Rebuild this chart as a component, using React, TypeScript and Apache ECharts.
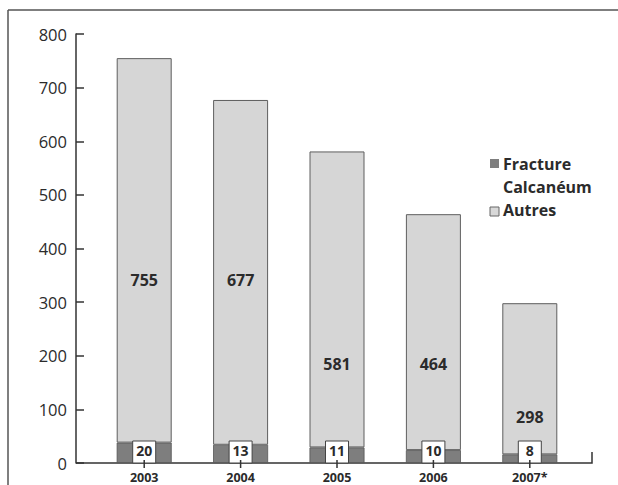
import React, { useEffect, useRef } from "react";
import * as echarts from "echarts";

const years = ["2003", "2004", "2005", "2006", "2007*"];
const fractureLabels = [20, 13, 11, 10, 8];
const fractureHeights = [38, 34, 29, 24, 16];
const autres = [717, 643, 552, 440, 282];
const totals = [755, 677, 581, 464, 298];
const totalLabelLevels = [342, 342, 185, 185, 86];
const yTicks = [0, 100, 200, 300, 400, 500, 600, 700, 800];

const FONT = "'Open Sans', 'Noto Sans', sans-serif";
const DARK = "#2b2b2b";

export default function App() {
  const ref = useRef<HTMLDivElement>(null);
  useEffect(() => {
    if (!ref.current) return;
    const chart = echarts.init(ref.current, null, { renderer: "svg" });
    chart.setOption({
      animation: false,
      backgroundColor: "#ffffff",
      grid: { left: 96, right: 40, top: 34, bottom: 22, containLabel: false },
      xAxis: {
        type: "category",
        data: years,
        axisLine: { show: false },
        axisTick: { show: false },
        axisLabel: {
          margin: 8,
          fontFamily: FONT,
          fontWeight: "bold",
          fontSize: 12.5,
          color: DARK,
        },
      },
      yAxis: {
        type: "value",
        min: yTicks[0],
        max: yTicks[yTicks.length - 1],
        interval: 100,
        offset: 20,
        splitLine: { show: false },
        axisLine: { show: true, lineStyle: { color: "#333", width: 1.5 } },
        axisTick: { show: true, inside: true, length: 8, lineStyle: { color: "#333", width: 1.5 } },
        axisLabel: { margin: 9, fontFamily: FONT, fontSize: 16.5, color: DARK },
      },
      series: [
        {
          name: "Fracture Calcanéum",
          type: "bar",
          stack: "a",
          barWidth: 55,
          data: fractureHeights,
          itemStyle: { color: "#7e7e7e", borderColor: "#555", borderWidth: 0.8 },
        },
        {
          name: "Autres",
          type: "bar",
          stack: "a",
          barWidth: 55,
          data: autres,
          itemStyle: { color: "#d6d6d6", borderColor: "#5e5e5e", borderWidth: 1 },
        },
        {
          type: "custom",
          z: 5,
          data: totals.map((t, i) => [i, totalLabelLevels[i], t]),
          renderItem: (params: any, api: any) => {
            const p = api.coord([api.value(0), api.value(1)]);
            return {
              type: "text",
              x: p[0],
              y: p[1],
              style: {
                text: String(api.value(2)),
                align: "center",
                verticalAlign: "middle",
                fontFamily: FONT,
                fontWeight: "bold",
                fontSize: 16,
                fill: DARK,
              },
            };
          },
        },
        {
          type: "custom",
          z: 6,
          data: fractureLabels.map((v, i) => [i, 0, v]),
          renderItem: (params: any, api: any) => {
            const p = api.coord([api.value(0), 0]);
            return {
              type: "group",
              children: [
                {
                  type: "rect",
                  shape: { x: p[0] - 11.5, y: p[1] - 22, width: 23, height: 22 },
                  style: { fill: "#ffffff", stroke: "#444", lineWidth: 1 },
                },
                {
                  type: "text",
                  x: p[0],
                  y: p[1] - 13,
                  style: {
                    text: String(api.value(2)),
                    align: "center",
                    verticalAlign: "middle",
                    fontFamily: FONT,
                    fontWeight: "bold",
                    fontSize: 14,
                    fill: DARK,
                  },
                },
                {
                  type: "line",
                  shape: { x1: p[0], y1: p[1] - 3, x2: p[0], y2: p[1] + 5 },
                  style: { stroke: "#333", lineWidth: 1.5 },
                },
              ],
            };
          },
        },
      ],
      graphic: [
        { type: "line", shape: { x1: 8, y1: 10, x2: 618, y2: 10 }, style: { stroke: "#555", lineWidth: 1.5 } },
        { type: "line", shape: { x1: 8, y1: 10, x2: 8, y2: 485 }, style: { stroke: "#555", lineWidth: 1.5 } },
        {
          type: "polyline",
          shape: { points: [[76, 463], [592, 463], [592, 452]] },
          style: { stroke: "#333", lineWidth: 1.5, fill: null },
        },
        { type: "rect", shape: { x: 490, y: 159, width: 9, height: 9 }, style: { fill: "#7e7e7e" } },
        {
          type: "text", x: 503, y: 164,
          style: { text: "Fracture", fontFamily: FONT, fontWeight: "bold", fontSize: 16, fill: DARK, verticalAlign: "middle" },
        },
        {
          type: "text", x: 503, y: 187,
          style: { text: "Calcanéum", fontFamily: FONT, fontWeight: "bold", fontSize: 16, fill: DARK, verticalAlign: "middle" },
        },
        { type: "rect", shape: { x: 490, y: 207, width: 9, height: 9 }, style: { fill: "#d8d8d8", stroke: "#666", lineWidth: 1 } },
        {
          type: "text", x: 503, y: 210,
          style: { text: "Autres", fontFamily: FONT, fontWeight: "bold", fontSize: 16, fill: DARK, verticalAlign: "middle" },
        },
      ],
    });
    return () => chart.dispose();
  }, []);
  return (
    <div
      ref={ref}
      style={{ position: "fixed", left: 0, top: 0, width: 618, height: 485, background: "#fff" }}
    />
  );
}
